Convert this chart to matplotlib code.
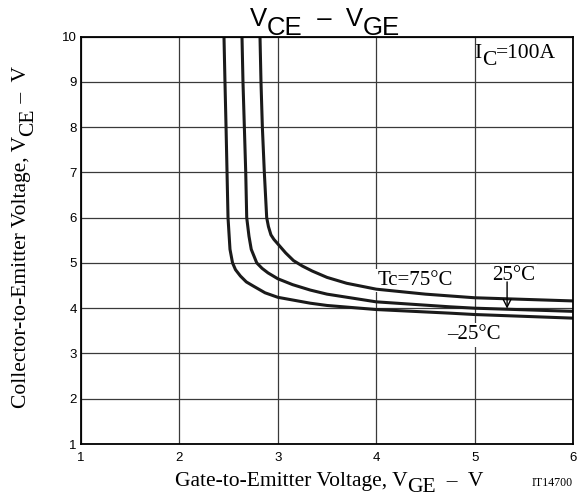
import matplotlib.pyplot as plt

# V_GE [V] and V_CE [V], Ic = 100 A
vge_m25 = [2.453, 2.463, 2.474, 2.484, 2.494, 2.514, 2.54, 2.57, 2.62, 2.68, 2.75, 2.87, 3.0, 3.33, 3.5, 4.0, 4.75, 5.0, 6.0]
vce_m25 = [10.0, 9.0, 8.0, 7.0, 6.0, 5.30, 5.0, 4.85, 4.71, 4.58, 4.49, 4.34, 4.24, 4.11, 4.06, 3.97, 3.89, 3.86, 3.78]
vge_25 = [2.636, 2.646, 2.66, 2.674, 2.684, 2.707, 2.73, 2.786, 2.84, 2.90, 3.0, 3.15, 3.33, 3.5, 4.0, 4.75, 5.0, 6.0]
vce_25 = [10.0, 9.0, 8.0, 7.0, 6.0, 5.59, 5.30, 5.0, 4.88, 4.78, 4.65, 4.52, 4.40, 4.31, 4.14, 4.03, 4.00, 3.93]
vge_75 = [2.819, 2.829, 2.843, 2.863, 2.887, 2.905, 2.93, 2.96, 3.0, 3.08, 3.16, 3.25, 3.35, 3.5, 3.7, 4.0, 4.5, 5.0, 6.0]
vce_75 = [10.0, 9.0, 8.0, 7.0, 6.0, 5.80, 5.62, 5.52, 5.42, 5.22, 5.05, 4.93, 4.82, 4.68, 4.55, 4.42, 4.31, 4.23, 4.16]

xticks = [1, 2, 3, 4, 5, 6]
yticks = [1, 2, 3, 4, 5, 6, 7, 8, 9, 10]

SERIF = "Liberation Serif"
SANS = "Liberation Sans"

fig = plt.figure(figsize=(5.84, 4.98), dpi=100)
ax = fig.add_axes([0.1387, 0.1084, 0.8425, 0.8183])


def rich(x, y, parts, size, family, transform, rotation=0, drop=5.0):
    # text with same-size subscripts, pieces chained one after another
    vert = rotation == 90
    first = ax.text(x, y, parts[0][0], transform=transform, fontsize=size, family=family,
                    rotation=rotation, ha="right" if vert else "left",
                    va="bottom" if vert else "baseline", zorder=5)
    prev = first
    for s, sub in parts[1:]:
        d = drop if sub else 0
        if vert:
            prev = ax.annotate(s, xy=(1, 1), xycoords=(first, prev), xytext=(d, 0),
                               textcoords="offset points", ha="right", va="bottom",
                               rotation=90, fontsize=size, family=family, zorder=5)
        else:
            prev = ax.annotate(s, xy=(1, 0), xycoords=(prev, first), xytext=(0, -d),
                               textcoords="offset points", ha="left", va="bottom",
                               fontsize=size, family=family, zorder=5)
    return first


for vge, vce in [(vge_m25, vce_m25), (vge_25, vce_25), (vge_75, vce_75)]:
    ax.plot(vge, vce, color="#1a1a1a", lw=2.2, zorder=4, solid_joinstyle="round")

ax.set_xlim(1, 6)
ax.set_ylim(1, 10)
ax.set_xticks(xticks)
ax.set_yticks(yticks)
ax.grid(True, color="#3a3a3a", lw=0.9)
ax.set_axisbelow(True)
ax.tick_params(length=0, labelsize=9.5)
ax.tick_params(axis="x", pad=6)
ax.tick_params(axis="y", pad=3)
for lab in ax.get_xticklabels() + ax.get_yticklabels():
    lab.set_family(SANS)
for sp in ax.spines.values():
    sp.set_linewidth(1.3)
    sp.set_zorder(6)

# title
rich(250 / 584, 1 - 26 / 498, [("V", False), ("CE", True), ("  \u2013  V", False), ("GE", True)],
     18.5, SANS, fig.transFigure, drop=6.5)

# axis labels
rich(175 / 584, 1 - 486 / 498,
     [("Gate-to-Emitter Voltage, V", False), ("GE", True), ("  \u2013  V", False)],
     15.5, SERIF, fig.transFigure, drop=4.5)
rich(31 / 584, 1 - 408 / 498,
     [("Collector-to-Emitter Voltage, V", False), ("CE", True), (" \u2013  V", False)],
     15.5, SERIF, fig.transFigure, rotation=90)
fig.text(573 / 584, 1 - 486 / 498, "IT14700", ha="right", va="baseline",
         fontsize=8.6, family=SERIF)

# annotations
rich(5.0, 9.52, [("I", False), ("C", True), ("=100A", False)], 15.5, SERIF, ax.transData)
box = dict(fc="white", ec="none", pad=1.5)
ax.text(4.01, 4.52, "Tc=75\u00b0C", fontsize=15, family=SERIF, bbox=box, zorder=3)
ax.text(5.18, 4.63, "25\u00b0C", fontsize=15, family=SERIF, bbox=box, zorder=3)
ax.text(4.72, 3.31, "\u201325\u00b0C", fontsize=15, family=SERIF, bbox=box, zorder=3)
ax.annotate("", xy=(5.33, 3.99), xytext=(5.33, 4.58),
            arrowprops=dict(arrowstyle="->", lw=1.0, color="black",
                            shrinkA=0, shrinkB=0, mutation_scale=14), zorder=5)

fig.savefig("out.png", dpi=100)
